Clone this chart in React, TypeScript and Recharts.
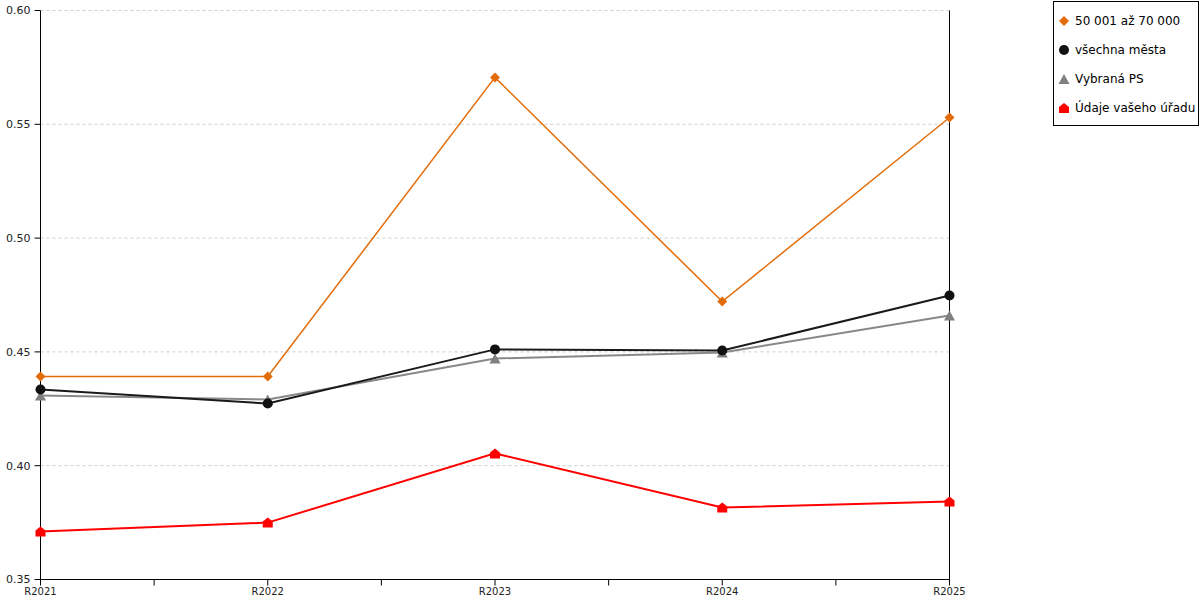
import React from 'react';
import { LineChart, Line, XAxis, YAxis, CartesianGrid, ReferenceLine } from 'recharts';

const categories = ['R2021', 'R2022', 'R2023', 'R2024', 'R2025'];
const groupValues = [0.4392, 0.4392, 0.5706, 0.4721, 0.553];
const allCities = [0.4335, 0.4273, 0.4511, 0.4506, 0.4748];
const selectedPS = [0.4308, 0.4291, 0.4471, 0.4497, 0.466];
const yourOffice = [0.3711, 0.375, 0.4054, 0.3816, 0.3843];
const yTicks = [0.35, 0.4, 0.45, 0.5, 0.55, 0.6];
const xTicks = [0, 0.5, 1, 1.5, 2, 2.5, 3, 3.5, 4];

const seriesNames = ['50 001 až 70 000', 'všechna města', 'Vybraná PS', 'Údaje vašeho úřadu'];
const colors = ['#E36C0A', '#111111', '#808080', '#FF0000'];

const data = categories.map((c, i) => ({
  i,
  name: c,
  g: groupValues[i],
  a: allCities[i],
  p: selectedPS[i],
  o: yourOffice[i],
}));

const shapePath = (kind: string, cx: number, cy: number) => {
  switch (kind) {
    case 'diamond':
      return `M${cx},${cy - 5} L${cx + 5},${cy} L${cx},${cy + 5} L${cx - 5},${cy} Z`;
    case 'triangle':
      return `M${cx},${cy - 5} L${cx + 5.5},${cy + 5} L${cx - 5.5},${cy + 5} Z`;
    case 'house':
      return `M${cx},${cy - 5} L${cx + 5},${cy - 1} L${cx + 5},${cy + 5} L${cx - 5},${cy + 5} L${cx - 5},${cy - 1} Z`;
    default:
      return '';
  }
};

const Marker = ({ kind, cx, cy, color }: { kind: string; cx: number; cy: number; color: string }) => {
  if (kind === 'circle') return <circle cx={cx} cy={cy} r={5} fill={color} stroke="none" />;
  return <path d={shapePath(kind, cx, cy)} fill={color} stroke="none" />;
};

const makeDot = (kind: string, color: string) => (props: any) => {
  const { cx, cy, index } = props;
  if (cx == null || cy == null) return <g key={`d-${kind}-${index}`} />;
  return (
    <g key={`d-${kind}-${index}`}>
      <Marker kind={kind} cx={cx} cy={cy} color={color} />
    </g>
  );
};

const kinds = ['diamond', 'circle', 'triangle', 'house'];
const font = '"DejaVu Sans", Verdana, sans-serif';

export default function App() {
  return (
    <div style={{ position: 'absolute', left: 0, top: 0, width: 1200, height: 600, background: '#fff', fontFamily: font }}>
      <LineChart width={1200} height={600} data={data} margin={{ top: 10.5, right: 250.5, left: 0, bottom: 0 }}>
        <CartesianGrid vertical={false} stroke="#cccccc" strokeDasharray="3 3" />
        <XAxis
          type="number"
          dataKey="i"
          domain={[0, 4]}
          ticks={xTicks}
          interval={0}
          height={20.5}
          tickSize={6}
          tickMargin={2}
          axisLine={{ stroke: '#000' }}
          tickLine={{ stroke: '#000' }}
          tick={{ fill: '#222', fontSize: 10, fontFamily: font }}
          tickFormatter={(v: number) => (Number.isInteger(v) ? categories[v] : '')}
        />
        <YAxis
          domain={[0.35, 0.6]}
          ticks={yTicks}
          width={40.5}
          tickSize={6}
          tickMargin={4}
          axisLine={{ stroke: '#000' }}
          tickLine={{ stroke: '#000' }}
          tick={{ fill: '#222', fontSize: 11, fontFamily: font }}
          tickFormatter={(v: number) => v.toFixed(2)}
        />
        <ReferenceLine x={4} stroke="#000" strokeWidth={1} />
        <Line type="linear" dataKey="g" stroke={colors[0]} strokeWidth={1.5} dot={makeDot('diamond', colors[0])} activeDot={false} isAnimationActive={false} />
        <Line type="linear" dataKey="p" stroke="#888888" strokeWidth={2} dot={makeDot('triangle', colors[2])} activeDot={false} isAnimationActive={false} />
        <Line type="linear" dataKey="a" stroke="#1a1a1a" strokeWidth={2} dot={makeDot('circle', colors[1])} activeDot={false} isAnimationActive={false} />
        <Line type="linear" dataKey="o" stroke={colors[3]} strokeWidth={2} dot={makeDot('house', colors[3])} activeDot={false} isAnimationActive={false} />
      </LineChart>
      <div
        style={{
          position: 'absolute',
          left: 1053,
          top: 1,
          width: 144,
          height: 123,
          border: '1px solid #000',
          background: '#fff',
          boxSizing: 'content-box',
        }}
      >
        {seriesNames.map((n, k) => (
          <div key={n} style={{ position: 'absolute', left: 0, top: 9 + k * 29, height: 20, display: 'flex', alignItems: 'center', whiteSpace: 'nowrap' }}>
            <svg width={20} height={20} style={{ display: 'block', marginLeft: 0 }}>
              <Marker kind={kinds[k]} cx={10} cy={10} color={colors[k]} />
            </svg>
            <span style={{ fontSize: 12, color: '#000', marginLeft: 1, fontFamily: font }}>{n}</span>
          </div>
        ))}
      </div>
    </div>
  );
}
